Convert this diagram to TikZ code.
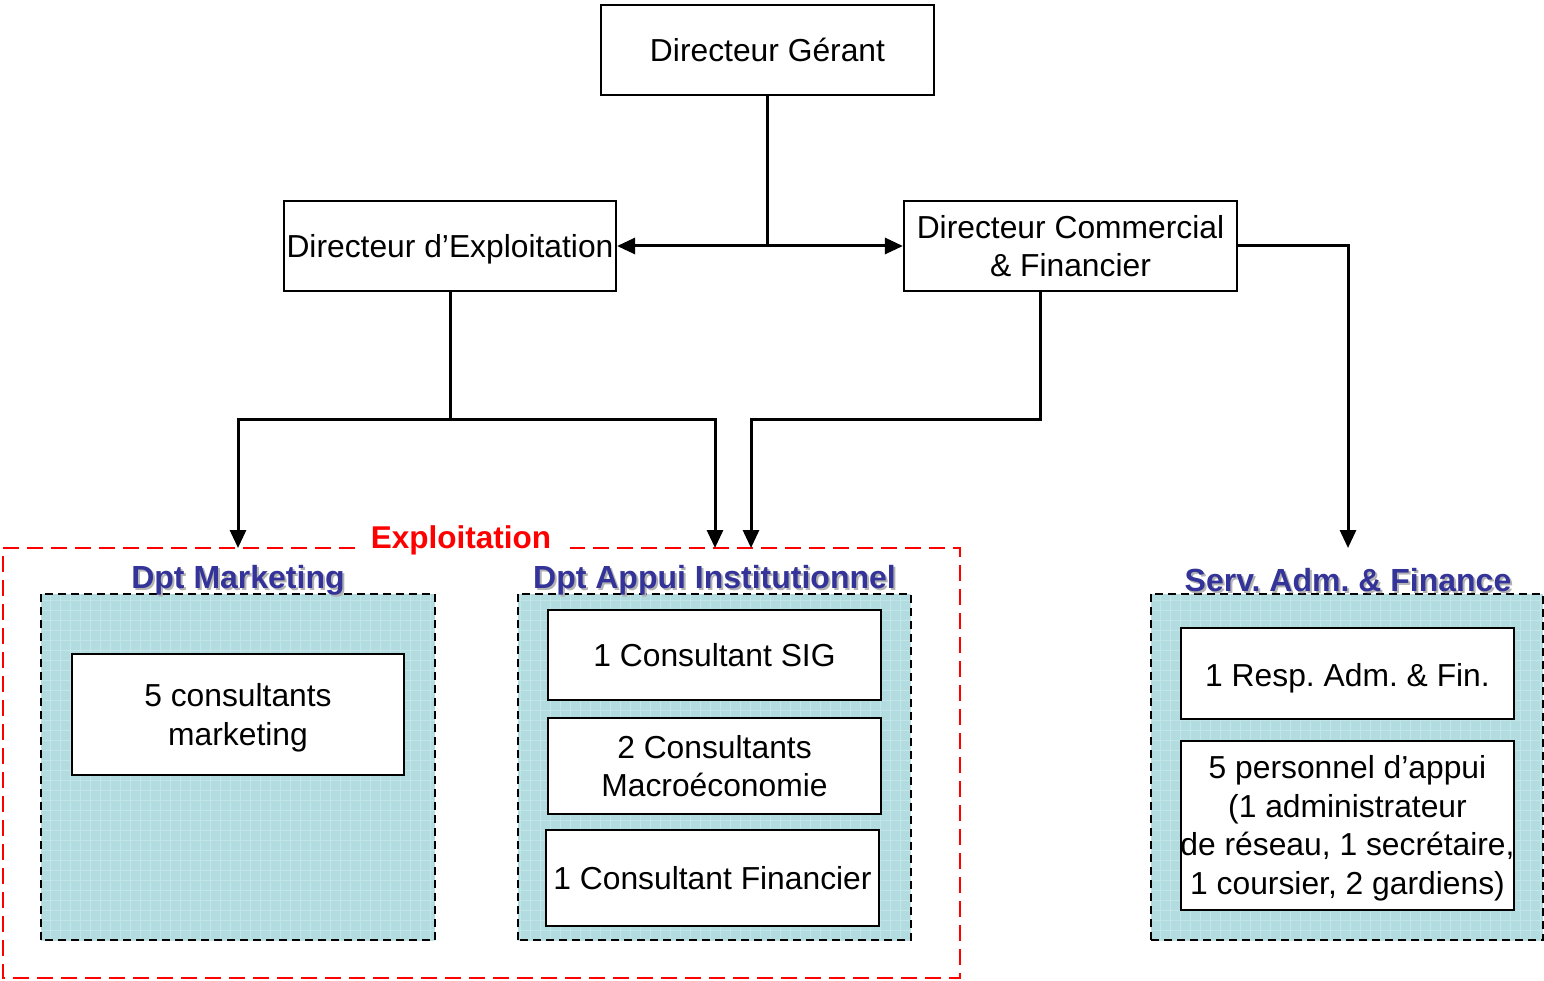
\documentclass[tikz,border=0pt]{standalone}
\usepackage{fontspec}
\setmainfont{Liberation Sans}
\usetikzlibrary{arrows.meta}
\definecolor{tealfill}{RGB}{178,220,224}
\definecolor{gridc}{RGB}{194,229,231}
\definecolor{dblue}{RGB}{51,51,153}
\newcommand\fillgrid[1]{%
  \begin{scope}
    \clip (#1.south west) rectangle (#1.north east);
    \draw[gridc, line width=0.7pt] (#1.south west) grid[step=10pt] (#1.north east);
  \end{scope}
  \draw[deptborder] (#1.south west) rectangle (#1.north east);}
\begin{document}
\frenchspacing
\begin{tikzpicture}[x=1pt,y=-1pt,
  txt/.style={inner sep=0pt,align=center,text depth=0pt,font=\fontsize{31.8}{38.5}\selectfont},
  box/.style={txt,draw=black,line width=2.2pt,fill=white},
  conn/.style={line width=3pt},
  arr/.style={conn,-{Triangle[length=18pt,width=16pt]}},
  deptfill/.style={fill=tealfill,inner sep=0pt},
  deptborder/.style={draw=black,line width=2.5pt,dash pattern=on 8pt off 5pt},
  title/.style={inner sep=0pt,font=\fontsize{32}{38}\selectfont\bfseries,text=dblue},
  shadowt/.style={title,text=black!30}
]
\useasboundingbox (0,0) rectangle (1544,981);

% top level boxes
\node[box, minimum width=333pt, minimum height=90pt] (dg) at (767.5,50) {Directeur Gérant};
\node[box, minimum width=332pt, minimum height=90pt] (de) at (450,246) {Directeur d’Exploitation};
\node[box, minimum width=333pt, minimum height=90pt] (dc) at (1070.5,246) {Directeur Commercial\\\& Financier};

% department areas
\node[deptfill, minimum width=394pt, minimum height=346pt] (mk) at (238,767) {};
\fillgrid{mk}
\node[deptfill, minimum width=393pt, minimum height=346pt] (ai) at (714.5,767) {};
\fillgrid{ai}
\node[deptfill, minimum width=392pt, minimum height=346pt] (sa) at (1347,767) {};
\fillgrid{sa}

% titles
\node[shadowt] at (240,582) {Dpt Marketing};
\node[title] (tmk) at (238,580) {Dpt Marketing};
\node[shadowt] at (716.5,582) {Dpt Appui Institutionnel};
\node[title] (tai) at (714.5,580) {Dpt Appui Institutionnel};
\node[shadowt] at (1350,582) {Serv. Adm. \& Finance};
\node[title] (tsa) at (1348,580) {Serv. Adm. \& Finance};

% inner boxes
\node[box, minimum width=332pt, minimum height=121pt] (cm) at (238,714.5) {5 consultants\\marketing};
\node[box, minimum width=333pt, minimum height=90pt] (sig) at (714.5,655) {1 Consultant SIG};
\node[box, minimum width=333pt, minimum height=96pt] (mac) at (714.5,766) {2 Consultants\\Macroéconomie};
\node[box, minimum width=333pt, minimum height=96pt] (fin) at (712.5,878) {1 Consultant Financier};
\node[box, minimum width=333pt, minimum height=91pt] (raf) at (1347.5,673.5) {};
\node[txt] (raft) at (1347.5,675) {1 Resp. Adm. \& Fin.};
\node[box, minimum width=333pt, minimum height=169pt] (pa) at (1347.5,825.5) {};
\node[txt] (pat) at (1347.5,825) {5 personnel d’appui\\(1 administrateur\\de réseau, 1 secrétaire,\\1 coursier, 2 gardiens)};

% Exploitation frame
\node[inner sep=0pt, font=\fontsize{31.5}{38}\selectfont\bfseries, text=red] (ex) at (461,540) {Exploitation};
\coordinate (fl) at (355,548);
\coordinate (fr) at (570,548);
\draw[red, line width=2.5pt, dash pattern=on 16pt off 8pt]
  (fl) -- (3,548) -- (3,978) -- (960,978) -- (960,548) -- (fr);

% connectors
\coordinate (j1) at (dg.south |- de.east);
\draw[conn] (dg.south) -- (j1);
\draw[arr] (j1) -- (de.east);
\draw[arr] (j1) -- (dc.west);

\coordinate (j2) at (450,419);
\coordinate (amk) at (238,548);
\coordinate (aai) at (715,548);
\draw[conn] (de.south) -- (j2);
\draw[arr] (j2) -| (amk);
\draw[arr] (j2) -| (aai);

\coordinate (dcs) at (1040,291);
\coordinate (j3) at (1040,419);
\coordinate (aai2) at (751,548);
\draw[arr] (dcs) -- (j3) -| (aai2);

\coordinate (asa) at (1348,548);
\draw[arr] (dc.east) -| (asa);
\end{tikzpicture}
\end{document}
